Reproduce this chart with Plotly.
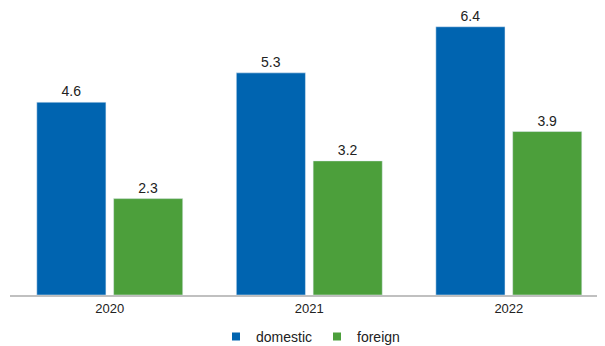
import plotly.graph_objects as go

years = ["2020", "2021", "2022"]
domestic = [4.6, 5.3, 6.4]
foreign = [2.3, 3.2, 3.9]

BLUE = "#0064b0"
GREEN = "#4c9f3b"

fig = go.Figure()
for name, vals, col in [("domestic", domestic, BLUE), ("foreign", foreign, GREEN)]:
    fig.add_trace(go.Bar(
        x=years, y=vals, name=name, marker_color=col,
        text=[f"{v:.1f}" for v in vals], textposition="outside",
        textfont=dict(size=14, color="#222222"),
        cliponaxis=False, showlegend=False,
    ))
    # small square legend entry
    fig.add_trace(go.Scatter(
        x=[None], y=[None], mode="markers", name=name,
        marker=dict(symbol="square", size=8, color=col),
    ))

# the page body has an 8px margin, so the figure is sized/offset to fit the window
fig.update_layout(
    width=597, height=338,
    margin=dict(l=2, r=0, t=2, b=51, autoexpand=False),
    paper_bgcolor="white", plot_bgcolor="white",
    font=dict(family="Liberation Sans, Arial, sans-serif", size=13, color="#222222"),
    barmode="group", bargap=0.23, bargroupgap=0.1,
    showlegend=True,
    legend=dict(orientation="h", x=0.505, xanchor="center", y=-0.147, yanchor="middle",
                font=dict(size=14), itemwidth=30),
    xaxis=dict(range=[-0.5, 2.482], showline=True, linecolor="#c0c0c0", linewidth=2,
               ticks="", showgrid=False, tickfont=dict(size=13)),
    yaxis=dict(range=[0, 6.8], visible=False, showgrid=False),
)

fig.write_html("out.html")
